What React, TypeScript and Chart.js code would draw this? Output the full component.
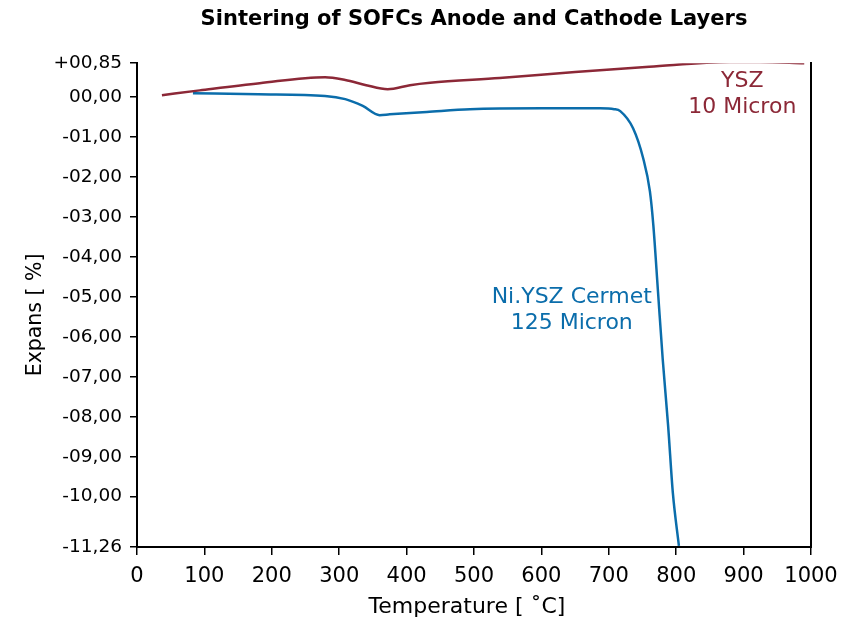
import React, { useEffect, useRef } from "react";
import { Chart, registerables } from "chart.js";

Chart.register(...registerables);

// YSZ 10 micron (cathode) - temperature [°C], expansion [%]
const yszTemp = [37, 93, 182, 279, 309, 340, 372, 405, 435, 538, 650, 760, 880, 924, 990];
const yszExp = [0.05, 0.17, 0.35, 0.5, 0.43, 0.3, 0.2, 0.3, 0.36, 0.48, 0.63, 0.76, 0.88, 0.88, 0.85];

// Ni.YSZ Cermet 125 micron (anode)
const niTemp = [83, 180, 279, 309, 335, 360, 375, 430, 494, 600, 687, 708, 717, 736, 751, 761, 766, 773, 780, 788, 795, 804];
const niExp = [0.1, 0.07, 0.03, -0.05, -0.22, -0.45, -0.43, -0.37, -0.3, -0.28, -0.28, -0.3, -0.35, -0.78, -1.53, -2.36, -3.19, -4.87, -6.56, -8.22, -9.9, -11.23];

const yTickValues = [0.85, 0, -1, -2, -3, -4, -5, -6, -7, -8, -9, -10, -11.26];
const yTickLabels = ["+00,85", "00,00", "-01,00", "-02,00", "-03,00", "-04,00", "-05,00", "-06,00", "-07,00", "-08,00", "-09,00", "-10,00", "-11,26"];

const RED = "#8c2837";
const BLUE = "#0b6dab";
const FONT = "'DejaVu Sans', sans-serif";

const annotations = [
  { text: "YSZ", x: 898, y: 0.4, color: RED },
  { text: "10 Micron", x: 898, y: -0.25, color: RED },
  { text: "Ni.YSZ Cermet", x: 645, y: -5.0, color: BLUE },
  { text: "125 Micron", x: 645, y: -5.67, color: BLUE },
];

const textPlugin = {
  id: "textLabels",
  afterDatasetsDraw(chart: any) {
    const { ctx, scales } = chart;
    ctx.save();
    ctx.font = `22px ${FONT}`;
    ctx.textAlign = "center";
    ctx.textBaseline = "middle";
    for (const a of annotations) {
      ctx.fillStyle = a.color;
      ctx.fillText(a.text, scales.x.getPixelForValue(a.x), scales.y.getPixelForValue(a.y));
    }
    ctx.restore();
  },
};

export default function App() {
  const ref = useRef<HTMLCanvasElement>(null);
  useEffect(() => {
    if (!ref.current) return;
    const chart = new Chart(ref.current, {
      type: "line",
      data: {
        datasets: [
          {
            label: "YSZ 10 Micron",
            data: yszTemp.map((t, i) => ({ x: t, y: yszExp[i] })),
            borderColor: RED,
            borderWidth: 2.5,
            pointRadius: 0,
            cubicInterpolationMode: "monotone",
            fill: false,
          },
          {
            label: "Ni.YSZ Cermet 125 Micron",
            data: niTemp.map((t, i) => ({ x: t, y: niExp[i] })),
            borderColor: BLUE,
            borderWidth: 2.5,
            pointRadius: 0,
            cubicInterpolationMode: "monotone",
            fill: false,
          },
        ],
      },
      options: {
        animation: false,
        responsive: true,
        maintainAspectRatio: false,
        layout: { padding: { left: 0, right: 31, top: 0, bottom: 0 } },
        plugins: {
          legend: { display: false },
          tooltip: { enabled: false },
          title: {
            display: true,
            text: "Sintering of SOFCs Anode and Cathode Layers",
            fullSize: false,
            color: "#000",
            font: { family: FONT, size: 21, weight: "bold" },
            padding: { top: 7, bottom: 31 },
          },
        },
        scales: {
          x: {
            type: "linear",
            min: 0,
            max: 1000,
            ticks: {
              stepSize: 100,
              color: "#000",
              font: { family: FONT, size: 21 },
              padding: 9,
              maxRotation: 0,
              callback: (v: any) => String(v),
            },
            grid: { drawOnChartArea: false, color: "#000", lineWidth: 1.5, tickLength: 8 },
            border: { display: true, color: "#000", width: 2 },
            title: { display: true, text: "Temperature [ ˚C]  ", color: "#000", font: { family: FONT, size: 22 }, padding: { top: 5 } },
            afterFit: (s: any) => { s.height = 77; s.paddingRight = 0; s.paddingLeft = 0; },
          },
          y: {
            type: "linear",
            min: -11.26,
            max: 0.85,
            afterBuildTicks: (axis: any) => { axis.ticks = yTickValues.map((v) => ({ value: v })); },
            ticks: {
              color: "#000",
              font: { family: FONT, size: 18.5 },
              padding: 8,
              autoSkip: false,
              callback: (v: any) => {
                const i = yTickValues.indexOf(Number(v));
                return i >= 0 ? yTickLabels[i] : "";
              },
            },
            grid: { drawOnChartArea: false, color: "#000", lineWidth: 1.5, tickLength: 7 },
            border: { display: true, color: "#000", width: 2 },
            title: { display: true, text: "Expans [ %]   ", color: "#000", font: { family: FONT, size: 20.5 }, padding: { top: 23, bottom: 0 } },
            afterFit: (s: any) => { s.width = 137; },
          },
          y2: {
            type: "linear",
            position: "right",
            min: -11.26,
            max: 0.85,
            ticks: { display: false },
            grid: { display: false },
            border: { display: true, color: "#000", width: 2 },
            afterFit: (s: any) => { s.width = 0; },
          },
        },
      },
      plugins: [textPlugin],
    } as any);
    return () => chart.destroy();
  }, []);
  return (
    <div style={{ position: "absolute", left: 0, top: 0, width: 842, height: 624, background: "#fff" }}>
      <canvas ref={ref} />
    </div>
  );
}
